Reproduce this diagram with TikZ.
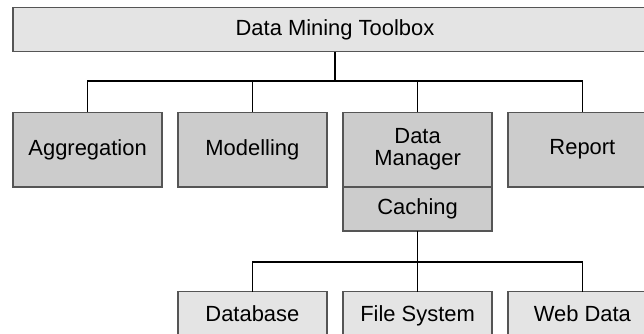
\documentclass[tikz,border=0pt]{standalone}
\usepackage{fontspec}
\setmainfont{Liberation Sans}
\definecolor{boxlight}{HTML}{E4E4E4}
\definecolor{boxmid}{HTML}{CCCCCC}
\definecolor{boxedge}{HTML}{555555}
\tikzset{
    unit/.style={draw=boxedge, line width=1.1pt, inner sep=0, outer sep=0,
        font=\fontsize{15.6pt}{15.7pt}\selectfont, align=center},
    topbox/.style={unit, fill=boxlight, minimum width=16.1cm, minimum height=1.1cm},
    modbox/.style={unit, fill=boxmid, minimum width=3.73cm, minimum height=1.86cm},
    cachebox/.style={unit, fill=boxmid, minimum width=3.73cm, minimum height=1.1cm},
    srcbox/.style={unit, fill=boxlight, minimum width=3.73cm, minimum height=1.1cm,
        text height=2.5ex, text depth=0.46ex},
    link/.style={draw=black, line width=0.8pt}
}
\begin{document}
\begin{tikzpicture}
    \useasboundingbox (0,0) rectangle (16.1cm,-8.35cm);
    \clip (0,0) rectangle (16.1cm,-8.35cm);
    \node[topbox] (toolbox) at (8.375cm,-0.74cm) {Data Mining Toolbox};
    \node[modbox] (aggregation) at (2.19cm,-3.74cm) {Aggregation};
    \node[modbox] (modelling) at (6.31cm,-3.74cm) {Modelling};
    \node[modbox] (manager) at (10.44cm,-3.74cm) {Data\\Manager};
    \node[modbox] (report) at (14.56cm,-3.74cm) {Report};
    \node[cachebox, anchor=north] (caching) at (manager.south) {Caching};
    \node[srcbox] (database) at (6.31cm,-7.84cm) {Database};
    \node[srcbox] (filesystem) at (10.44cm,-7.84cm) {File System};
    \node[srcbox] (webdata) at (14.56cm,-7.84cm) {Web Data};
    \coordinate (upperbus) at (8.375cm,-2.025cm);
    \coordinate (lowerbus) at (10.44cm,-6.55cm);
    \draw[link] (toolbox.south) -- (upperbus);
    \draw[link] (upperbus) -| (aggregation.north);
    \draw[link] (upperbus) -| (modelling.north);
    \draw[link] (upperbus) -| (manager.north);
    \draw[link] (upperbus) -| (report.north);
    \draw[link] (caching.south) -- (lowerbus);
    \draw[link] (lowerbus) -| (database.north);
    \draw[link] (lowerbus) -| (filesystem.north);
    \draw[link] (lowerbus) -| (webdata.north);
\end{tikzpicture}
\end{document}
